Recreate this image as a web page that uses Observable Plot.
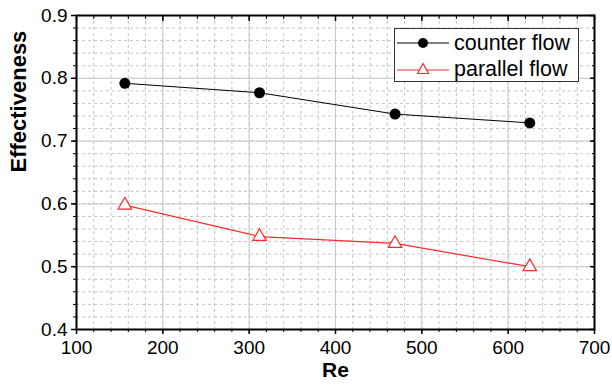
<!DOCTYPE html>
<html><head><meta charset="utf-8">
<script src="https://cdn.jsdelivr.net/npm/d3@7"></script>
<script src="https://cdn.jsdelivr.net/npm/@observablehq/plot@0.6"></script>
<style>
body{margin:0;background:#fff;font-family:"Liberation Sans",Arial,sans-serif}
#wrap{position:relative;width:612px;height:390px}
#legend{position:absolute;left:394px;top:28px;width:185px;height:54px;border:1px solid #333;background:#fff;box-sizing:border-box}
#legend .row{position:absolute;left:2px;height:26px;display:flex;align-items:center;font-size:21.5px;color:#000;white-space:nowrap}
#legend svg{margin-right:5px}
</style></head><body><div id="wrap"></div>
<script>
const re = [156, 312, 469, 625];
const counterFlow = [0.792, 0.777, 0.743, 0.729];
const parallelFlow = [0.598, 0.548, 0.537, 0.500];
const seriesNames = ["counter flow", "parallel flow"];
const xTicks = [100, 200, 300, 400, 500, 600, 700];
const yTicks = [0.4, 0.5, 0.6, 0.7, 0.8, 0.9];
const xMinor = d3.range(100, 701, 20);
const yMinor = d3.range(40, 91, 2).map(v => v / 100);

const counter = re.map((r, i) => ({re: r, eff: counterFlow[i]}));
const parallel = re.map((r, i) => ({re: r, eff: parallelFlow[i]}));
const blank = () => "";

const chart = Plot.plot({
  width: 612, height: 390,
  marginLeft: 76, marginRight: 18, marginTop: 15, marginBottom: 61,
  style: {fontFamily: "Liberation Sans, Arial, sans-serif", background: "#fff", overflow: "visible"},
  x: {domain: [100, 700]},
  y: {domain: [0.4, 0.9]},
  marks: [
    Plot.gridX({ticks: xMinor, stroke: "#c4c4c4", strokeOpacity: 1, strokeDasharray: "3,3"}),
    Plot.gridY({ticks: yMinor, stroke: "#c4c4c4", strokeOpacity: 1, strokeDasharray: "3,3"}),
    Plot.gridX({ticks: xTicks, stroke: "#c8c8c8", strokeOpacity: 1}),
    Plot.gridY({ticks: yTicks, stroke: "#c8c8c8", strokeOpacity: 1}),
    Plot.axisX({ticks: xTicks, anchor: "bottom", tickSize: 5, tickPadding: 6, fontSize: 19, label: null, tickFormat: d => String(d), strokeWidth: 1.5}),
    Plot.axisX({ticks: xMinor, anchor: "bottom", tickSize: 3, tickFormat: blank, label: null}),
    Plot.axisX({ticks: xTicks, anchor: "top", tickSize: -5, tickFormat: blank, label: null, strokeWidth: 1.5}),
    Plot.axisX({ticks: xMinor, anchor: "top", tickSize: -3, tickFormat: blank, label: null}),
    Plot.axisY({ticks: yTicks, anchor: "left", tickSize: 5, tickPadding: 4, fontSize: 19, label: null, tickFormat: d => d.toFixed(1), strokeWidth: 1.5}),
    Plot.axisY({ticks: yMinor, anchor: "left", tickSize: 3, tickFormat: blank, label: null}),
    Plot.axisY({ticks: yTicks, anchor: "right", tickSize: -5, tickFormat: blank, label: null, strokeWidth: 1.5}),
    Plot.axisY({ticks: yMinor, anchor: "right", tickSize: -3, tickFormat: blank, label: null}),
    Plot.frame({stroke: "#000", strokeWidth: 2}),
    Plot.line(counter, {x: "re", y: "eff", stroke: "#000", strokeWidth: 1}),
    Plot.line(parallel, {x: "re", y: "eff", stroke: "#ff2a2a", strokeWidth: 1.2}),
    Plot.dot(counter, {x: "re", y: "eff", r: 5.5, fill: "#000", stroke: "none"}),
    Plot.dot(parallel, {x: "re", y: "eff", symbol: "triangle", r: 5, fill: "#fff", stroke: "#ff2a2a", strokeWidth: 1.2}),
    Plot.text(["Re"], {frameAnchor: "bottom", dy: 47, fontSize: 21, fontWeight: "bold", fill: "#000"}),
    Plot.text(["Effectiveness"], {frameAnchor: "left", dx: -58, rotate: -90, fontSize: 22, fontWeight: "bold", fill: "#000"})
  ]
});
document.getElementById("wrap").appendChild(chart);

const leg = document.createElement("div");
leg.id = "legend";
leg.innerHTML = `
<div class="row" style="top:1px"><svg width="52" height="16"><line x1="0" y1="8" x2="52" y2="8" stroke="#000" stroke-width="1"/><circle cx="26" cy="8" r="5" fill="#000"/></svg>${seriesNames[0]}</div>
<div class="row" style="top:27px"><svg width="52" height="16"><line x1="0" y1="9" x2="52" y2="9" stroke="#ff2a2a" stroke-width="1.2"/><path d="M26,2.5 L31.5,12.5 L20.5,12.5 Z" fill="#fff" stroke="#ff2a2a" stroke-width="1.2"/></svg>${seriesNames[1]}</div>`;
document.getElementById("wrap").appendChild(leg);
</script>
</body></html>
